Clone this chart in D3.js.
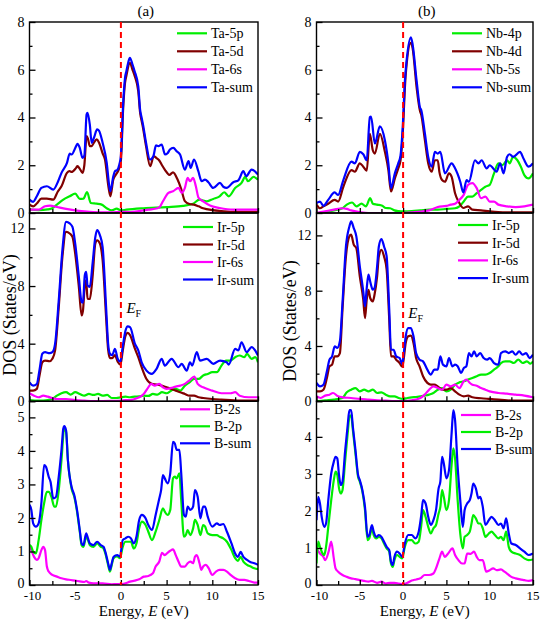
<!DOCTYPE html>
<html><head><meta charset="utf-8">
<script src="https://cdn.jsdelivr.net/npm/d3@7/dist/d3.min.js"></script>
<style>body{margin:0;background:#fff}svg{display:block}text{font-family:"Liberation Serif","Times New Roman",serif;fill:#000}</style>
</head><body>
<script>
// ---------- DATA ([energy eV, DOS]) ----------
const taSum=[[-10,0.56],[-9.6,0.47],[-9.2,0.7],[-8.7,1.05],[-8.1,1.12],[-7.4,0.98],[-6.9,1.3],[-6.5,1.68],[-5.9,2.1],[-5.6,2.49],[-5.4,2.45],[-4.9,2.8],[-4.75,2.9],[-4.5,2.73],[-4.2,2.31],[-4.0,2.4],[-3.75,4.13],[-3.65,4.2],[-3.4,3.7],[-3.2,2.94],[-2.95,3.15],[-2.6,3.5],[-2.4,3.45],[-2.0,2.94],[-1.55,2.1],[-1.27,1.12],[-1.15,0.91],[-0.83,1.54],[-0.65,1.75],[-0.4,1.8],[-0.17,2.03],[0,2.4],[0.25,4.6],[0.45,5.66],[0.6,5.94],[0.9,6.43],[0.98,6.5],[1.27,6.22],[1.5,5.94],[1.9,5.3],[2.1,4.33],[2.27,3.99],[2.45,3.64],[2.75,2.94],[3.18,2.24],[3.55,2.38],[3.84,2.83],[4.1,2.8],[4.46,2.87],[4.83,2.45],[5.1,2.5],[5.37,2.66],[5.74,2.73],[6.1,2.59],[6.47,2.45],[7.0,1.82],[7.4,2.17],[7.63,1.89],[8.0,2.24],[8.47,1.75],[8.84,1.33],[9.2,1.4],[9.57,1.29],[10.1,1.05],[10.84,1.26],[11.2,1.1],[11.57,1.05],[12.3,1.29],[12.85,1.37],[13.4,1.75],[13.7,1.54],[14.3,1.82],[15,1.61]];
const ta5d=[[-10,0.35],[-9.6,0.28],[-9.2,0.4],[-8.7,0.6],[-8.1,0.6],[-7.4,0.56],[-6.9,0.9],[-6.5,1.12],[-5.9,1.68],[-5.6,1.75],[-5.4,1.72],[-4.9,1.89],[-4.75,1.96],[-4.5,1.85],[-4.2,1.68],[-4.0,2.0],[-3.75,3.22],[-3.6,3.1],[-3.4,2.8],[-3.2,2.8],[-2.95,2.95],[-2.65,3.08],[-2.4,2.95],[-2.0,2.5],[-1.74,2.24],[-1.37,1.12],[-1.15,0.7],[-0.83,1.4],[-0.54,1.61],[-0.24,1.82],[0,2.2],[0.25,4.4],[0.45,5.45],[0.6,5.75],[0.98,6.29],[1.27,6.0],[1.5,5.75],[1.9,5.1],[2.1,4.2],[2.3,3.8],[2.45,3.5],[2.75,2.8],[3.2,1.96],[3.6,2.38],[3.9,2.3],[4.2,2.2],[4.5,2.0],[4.8,1.82],[5.3,1.6],[5.7,1.7],[6.2,1.4],[6.6,1.0],[7.0,0.5],[7.5,0.38],[8,0.35],[8.5,0.28],[9,0.2],[10,0.12],[11,0.08],[12,0.05],[13,0.05],[14,0.05],[15,0.05]];
const ta5p=[[-10,0.15],[-9,0.12],[-8,0.15],[-7.5,0.2],[-7,0.35],[-6.3,0.56],[-5.6,0.7],[-5,0.81],[-4.5,0.59],[-4.1,0.6],[-3.7,0.88],[-3.3,0.42],[-2.65,0.39],[-2.1,0.35],[-1.55,0.2],[-1,0.11],[-0.46,0.18],[0,0.11],[0.6,0.14],[2.5,0.2],[5,0.25],[6.8,0.3],[7.9,0.39],[8.6,0.56],[9.4,0.49],[10.1,0.59],[10.8,0.7],[11.3,0.87],[11.8,0.7],[12.5,1.05],[13.2,1.26],[13.6,1.51],[13.9,1.33],[14.5,1.51],[15,1.4]];
const ta6s=[[-10,0.14],[-9,0.14],[-8.3,0.28],[-7.75,0.31],[-7,0.25],[-6,0.17],[-5,0.11],[-4,0.07],[-3,0.04],[-2,0.03],[-1,0.03],[0,0.05],[1,0.04],[2,0.08],[3,0.14],[4,0.2],[4.3,0.28],[4.6,0.49],[5.2,0.84],[5.7,0.91],[6.3,1.05],[6.65,0.84],[7.0,1.05],[7.3,1.47],[7.56,1.33],[7.9,1.47],[8.2,1.12],[8.5,0.63],[9,0.49],[9.75,0.31],[10.8,0.21],[12.3,0.14],[15,0.14]];

const nbSum=[[-10,0.42],[-9.6,0.48],[-9.2,0.3],[-8.65,0.55],[-7.9,0.86],[-7.5,0.76],[-6.9,1.38],[-5.96,2.15],[-5.57,2.08],[-5,2.56],[-4.6,2.46],[-4.2,2.21],[-3.84,4.01],[-3.7,4.04],[-3.26,2.91],[-2.68,3.63],[-2.1,3.04],[-1.7,2.08],[-1.4,1.04],[-0.95,1.66],[-0.56,2.08],[-0.3,2.4],[0,3.9],[0.2,5.5],[0.4,6.37],[0.9,7.36],[1.1,7.06],[1.56,5.54],[1.94,4.43],[2.1,4.3],[2.52,3.32],[2.9,2.35],[3.3,1.94],[3.67,2.56],[4.0,2.49],[4.3,2.56],[4.83,1.66],[5.6,2.08],[6.0,1.87],[6.6,1.31],[6.95,0.86],[7.33,1.38],[7.6,1.31],[8.3,2.21],[8.7,2.08],[9.07,2.21],[9.65,1.87],[10,2.0],[10.8,1.73],[11.2,2.08],[11.6,1.66],[12,2.35],[12.3,2.46],[12.7,2.35],[13.5,2.56],[13.9,2.28],[14.5,1.94],[15,2.08]];
const nb4d=[[-10,0.35],[-9.6,0.2],[-9.2,0.28],[-8.65,0.39],[-7.9,0.55],[-7.5,0.48],[-6.9,1.1],[-5.96,1.8],[-5.57,1.73],[-5,2.08],[-4.6,1.94],[-4.2,1.77],[-3.84,3.32],[-3.5,2.63],[-3.26,2.49],[-2.68,3.32],[-2.1,2.56],[-1.7,1.8],[-1.4,0.9],[-0.95,1.45],[-0.56,1.87],[-0.3,2.2],[0,3.6],[0.2,5.2],[0.4,6.2],[0.9,7.13],[1.1,6.9],[1.56,5.26],[1.94,4.29],[2.1,4.1],[2.52,3.04],[2.9,2.08],[3.3,1.73],[3.67,2.21],[4.0,2.21],[4.2,1.7],[4.5,1.38],[4.83,1.31],[5.3,1.66],[5.6,1.52],[6.0,0.83],[6.4,0.48],[6.95,0.21],[7.5,0.28],[8,0.14],[9,0.11],[10,0.07],[11,0.04],[12,0.03],[13,0.03],[14,0.03],[15,0.03]];
const nb4p=[[-10,0.0],[-9,0.04],[-8,0.11],[-7,0.2],[-6.5,0.35],[-5.9,0.44],[-5.4,0.28],[-4.8,0.39],[-4.3,0.28],[-3.8,0.62],[-3.5,0.39],[-3,0.35],[-2.4,0.3],[-2,0.21],[-1.5,0.2],[-1,0.11],[-0.5,0.08],[0,0.07],[1,0.08],[2,0.11],[3,0.14],[4,0.14],[5,0.17],[6,0.2],[6.5,0.28],[7,0.48],[7.5,0.69],[8,0.69],[8.5,0.83],[9,0.97],[9.5,1.1],[10,1.18],[10.5,1.66],[11,2.08],[11.5,2.01],[12,2.21],[12.3,2.08],[12.7,2.35],[13.2,2.21],[13.6,1.94],[14,1.59],[14.5,1.45],[15,1.66]];
const nb5s=[[-10,0.0],[-9,0.07],[-8,0.14],[-7,0.2],[-6.5,0.17],[-6,0.11],[-5,0.04],[-4,0.0],[-1,0.0],[0,0.0],[1,0.03],[2,0.06],[3,0.11],[4,0.25],[5,0.3],[5.5,0.35],[6,0.39],[6.5,0.55],[7,0.76],[7.5,1.18],[8,1.25],[8.5,1.04],[9,0.62],[9.5,0.69],[10,0.48],[10.5,0.48],[11,0.35],[12,0.28],[13,0.25],[14,0.28],[15,0.35]];

const irSumA=[[-10,1.32],[-9.6,1.09],[-9.2,1.2],[-8.9,2.2],[-8.6,3.3],[-8.3,3.41],[-7.8,3.34],[-7.5,3.41],[-7.2,3.99],[-6.8,7.0],[-6.4,10.5],[-6.0,12.46],[-5.6,12.35],[-5.3,12.1],[-5,10.95],[-4.6,8.63],[-4.3,6.9],[-4.15,6.85],[-3.95,8.75],[-3.8,8.98],[-3.65,8.05],[-3.4,7.94],[-3.1,9.56],[-2.8,11.4],[-2.6,11.88],[-2.3,11.53],[-2.0,10.7],[-1.6,6.3],[-1.4,4.0],[-1.2,3.3],[-0.95,3.2],[-0.65,3.64],[-0.35,2.95],[-0.05,2.75],[0.2,3.8],[0.5,4.9],[0.75,5.2],[1.0,5.15],[1.54,3.99],[1.9,3.53],[2.27,2.71],[2.8,2.13],[3.37,1.9],[3.9,2.25],[4.46,2.95],[4.8,2.48],[5.55,2.95],[6.3,2.37],[6.65,2.6],[7.2,2.13],[7.56,2.71],[7.8,2.48],[8.3,3.41],[8.65,2.83],[9.4,2.95],[10.1,2.6],[10.85,2.83],[11.57,2.71],[11.8,2.55],[12.5,3.64],[12.85,3.53],[13.2,4.1],[13.76,3.41],[14.3,3.76],[15,3.18]];
const ir5dA=[[-10,0.74],[-9.6,0.74],[-9.2,0.86],[-8.9,1.8],[-8.6,2.71],[-8.3,2.83],[-7.8,2.78],[-7.5,2.95],[-7.2,3.53],[-6.8,6.54],[-6.4,10.02],[-6.0,11.76],[-5.6,11.65],[-5.3,11.41],[-5,10.25],[-4.6,7.94],[-4.3,5.96],[-4.15,6.3],[-3.95,8.05],[-3.8,8.4],[-3.65,7.12],[-3.4,7.1],[-3.1,8.63],[-2.8,10.95],[-2.6,11.18],[-2.3,10.95],[-2.0,9.79],[-1.6,5.61],[-1.4,3.6],[-1.2,3.0],[-0.95,3.0],[-0.65,3.2],[-0.35,2.75],[-0.05,2.55],[0.2,3.5],[0.5,4.55],[0.75,4.75],[1.0,4.6],[1.54,3.64],[1.9,3.06],[2.27,2.37],[2.8,1.55],[3.37,1.21],[3.9,1.16],[4.46,1.09],[5,0.97],[5.5,0.86],[6,0.74],[6.5,0.63],[7,0.51],[7.5,0.39],[8,0.39],[8.5,0.28],[9,0.23],[10,0.16],[11,0.12],[12,0.09],[13,0.05],[14,0.05],[15,0.05]];
const ir5pA=[[-10,0.09],[-9,0.05],[-8,0.09],[-7.5,0.16],[-7,0.39],[-6.5,0.56],[-6,0.63],[-5.5,0.46],[-5,0.63],[-4.5,0.51],[-4,0.39],[-3.5,0.51],[-3,0.44],[-2.5,0.51],[-2,0.39],[-1.5,0.44],[-1,0.23],[-0.5,0.23],[0,0.28],[0.5,0.32],[1,0.28],[1.5,0.32],[2,0.34],[2.5,0.39],[3,0.37],[3.5,0.51],[4,0.46],[4.5,0.63],[5,0.56],[5.5,0.74],[6,0.86],[6.5,0.74],[7,1.09],[7.5,1.32],[8,1.55],[8.5,1.55],[9,1.79],[9.5,1.9],[10,2.02],[10.5,2.02],[11,2.48],[11.5,2.83],[12,2.83],[12.5,3.06],[13,3.18],[13.5,3.06],[13.8,3.29],[14.3,2.95],[14.7,3.06],[15,2.71]];
const ir6sA=[[-10,0.56],[-9.5,0.39],[-9,0.28],[-8.5,0.39],[-8,0.32],[-7.5,0.23],[-7,0.16],[-6,0.16],[-5,0.09],[-4,0.05],[-3,0.02],[-2,0.02],[-1,0.03],[0,0.05],[0.5,0.09],[1,0.09],[1.5,0.16],[2,0.28],[2.5,0.51],[3,0.97],[3.3,1.21],[3.7,1.09],[4.2,1.21],[4.6,0.97],[5,0.86],[5.5,0.93],[6,1.02],[6.5,1.09],[7,1.21],[7.5,1.45],[8.03,1.72],[8.4,1.21],[9,0.97],[10,0.74],[11,0.56],[12,0.56],[12.5,0.63],[13,0.39],[14,0.28],[15,0.28]];

const irSumB=[[-10,1.33],[-9.6,1.08],[-9.2,1.2],[-8.8,2.17],[-8.5,3.01],[-8.2,3.25],[-7.9,3.98],[-7.6,3.86],[-7.3,4.34],[-7,7.1],[-6.6,11.2],[-6.2,12.65],[-6,13.01],[-5.7,12.53],[-5.4,11.93],[-5,9.76],[-4.6,7.95],[-4.4,6.87],[-4.2,8.19],[-4.0,9.16],[-3.8,8.67],[-3.5,8.07],[-3.3,8.19],[-3,9.76],[-2.8,11.2],[-2.5,11.74],[-2.2,11.2],[-1.9,10.48],[-1.6,6.63],[-1.4,3.73],[-1.1,3.73],[-0.8,3.25],[-0.4,3.13],[-0.1,2.7],[0.1,3.6],[0.3,4.7],[0.6,5.3],[0.9,5.3],[1.2,4.7],[1.5,3.49],[1.9,3.01],[2.3,2.89],[2.8,2.29],[3.2,1.93],[3.6,2.29],[4,2.29],[4.3,3.25],[4.6,2.65],[5,2.53],[5.3,3.13],[5.7,2.53],[6,2.65],[6.3,2.53],[6.7,2.05],[7.0,2.4],[7.3,2.53],[7.6,3.49],[7.9,3.25],[8.2,3.61],[8.5,3.25],[8.9,3.49],[9.3,3.13],[9.7,3.01],[10,3.13],[10.5,2.77],[11,2.65],[11.3,3.49],[11.8,3.61],[12.2,3.49],[12.6,3.61],[13,3.37],[13.4,3.61],[13.8,3.37],[14.2,3.49],[14.6,3.13],[15,3.37]];
const ir5dB=[[-10,0.72],[-9.6,0.72],[-9.2,0.84],[-8.8,1.69],[-8.5,2.53],[-8.2,2.65],[-7.9,3.25],[-7.6,3.25],[-7.3,3.49],[-7,6.63],[-6.6,10.48],[-6.2,11.93],[-6,12.05],[-5.7,11.33],[-5.4,11.08],[-5,9.04],[-4.6,7.35],[-4.4,6.02],[-4.2,7.35],[-4,8.07],[-3.8,7.47],[-3.5,7.23],[-3.3,7.71],[-3,9.04],[-2.8,10.48],[-2.5,10.96],[-2.2,10.48],[-1.9,9.52],[-1.6,5.9],[-1.4,3.25],[-1.1,3.25],[-0.8,3.01],[-0.4,2.77],[-0.1,2.5],[0.1,3.2],[0.3,4.22],[0.6,4.7],[0.9,4.75],[1.2,4.22],[1.5,3.13],[1.9,2.53],[2.3,1.81],[2.8,1.33],[3.2,1.2],[3.6,1.2],[4,1.08],[4.5,0.84],[5,0.84],[5.5,0.96],[6,0.72],[6.5,0.48],[7,0.36],[7.5,0.41],[8,0.29],[9,0.22],[10,0.17],[11,0.12],[12,0.07],[13,0.05],[14,0.05],[15,0.05]];
const ir5pB=[[-10,0.0],[-9,0.07],[-8,0.12],[-7,0.24],[-6.5,0.65],[-6,0.84],[-5.5,0.96],[-5,0.72],[-4.5,0.84],[-4,0.72],[-3.5,0.84],[-3,0.6],[-2.5,0.65],[-2,0.48],[-1.5,0.36],[-1,0.36],[-0.5,0.24],[0,0.17],[0.5,0.24],[1,0.29],[1.5,0.31],[2,0.36],[2.5,0.41],[3,0.48],[3.5,0.6],[4,0.84],[4.5,0.96],[5,0.72],[5.5,0.84],[6,1.2],[6.5,1.37],[7,1.45],[7.5,1.57],[8,1.69],[8.5,1.81],[9,1.93],[9.5,1.93],[10,2.05],[10.5,2.29],[11,2.53],[11.3,2.77],[11.8,2.89],[12.3,2.89],[12.8,2.77],[13.3,3.01],[13.8,2.77],[14.3,2.89],[14.7,2.72],[15,2.89]];
const ir6sB=[[-10,0.36],[-9.5,0.24],[-9,0.41],[-8.5,0.48],[-8.1,0.6],[-7.5,0.36],[-7,0.29],[-6,0.24],[-5,0.17],[-4,0.12],[-3,0.07],[-2,0.05],[-1,0.02],[0,0.02],[1,0.07],[2,0.24],[2.5,0.48],[3,0.84],[3.5,1.08],[4,0.96],[4.5,0.84],[5,1.2],[5.5,1.08],[6,1.2],[6.5,0.96],[7,1.45],[7.3,1.57],[7.7,1.33],[8,1.2],[8.5,1.13],[9,0.96],[9.5,0.84],[10,0.72],[11,0.6],[12,0.55],[13,0.48],[14,0.41],[15,0.29]];

const bSumA=[[-10,2.39],[-9.8,2.24],[-9.6,1.84],[-9.3,1.74],[-9,1.84],[-8.7,2.44],[-8.4,3.58],[-8.2,3.53],[-7.9,3.23],[-7.7,3.08],[-7.4,2.58],[-7.1,2.63],[-6.8,3.23],[-6.5,4.03],[-6.3,4.67],[-6.2,4.74],[-6.0,4.62],[-5.8,3.73],[-5.4,2.93],[-5.1,2.68],[-4.8,2.24],[-4.5,1.64],[-4.3,1.24],[-4.1,1.19],[-3.8,1.54],[-3.6,1.39],[-3.4,1.24],[-3.0,1.19],[-2.6,1.29],[-2.2,1.19],[-1.9,1.14],[-1.7,0.99],[-1.4,0.65],[-1.2,0.45],[-1.0,0.65],[-0.8,0.84],[-0.4,0.89],[-0.1,0.84],[0.2,1.34],[0.5,1.39],[0.8,1.44],[1.1,1.39],[1.4,1.24],[1.7,1.44],[2.0,1.94],[2.3,2.09],[2.7,1.99],[3.0,1.79],[3.4,1.64],[3.8,2.09],[4.2,2.58],[4.4,2.83],[4.6,3.28],[4.8,3.18],[5.1,3.03],[5.4,3.33],[5.7,4.27],[5.9,4.22],[6.1,4.03],[6.4,4.03],[6.6,3.33],[6.9,2.09],[7.1,2.04],[7.3,2.34],[7.6,2.24],[7.9,2.34],[8.1,2.83],[8.4,2.63],[8.7,1.99],[9.0,2.34],[9.2,2.34],[9.5,2.04],[10,1.74],[10.5,1.84],[10.8,1.79],[11.2,1.82],[11.6,1.59],[12.1,1.24],[12.5,0.94],[12.8,0.84],[13.1,0.99],[13.4,0.84],[13.8,0.75],[14.2,0.68],[14.6,0.65],[15,0.6]];
const b2pA=[[-10,1.19],[-9.8,1.14],[-9.6,0.99],[-9.3,0.94],[-9,1.34],[-8.7,1.94],[-8.4,2.44],[-8.1,2.78],[-7.9,2.78],[-7.6,2.63],[-7.3,2.34],[-7.1,2.34],[-6.8,2.83],[-6.5,3.73],[-6.2,4.67],[-6.0,4.57],[-5.8,3.73],[-5.4,2.88],[-5.1,2.63],[-4.8,2.19],[-4.5,1.59],[-4.3,1.19],[-4.1,1.14],[-3.8,1.44],[-3.6,1.34],[-3.4,1.19],[-3.0,1.14],[-2.6,1.24],[-2.2,1.14],[-1.9,1.09],[-1.7,0.94],[-1.4,0.6],[-1.2,0.4],[-1.0,0.6],[-0.8,0.8],[-0.4,0.85],[-0.1,0.8],[0.2,1.14],[0.5,1.29],[0.8,1.29],[1.1,1.29],[1.4,1.09],[1.7,1.24],[2.0,1.69],[2.3,1.89],[2.7,1.79],[3.0,1.59],[3.4,1.34],[3.8,1.59],[4.2,1.94],[4.6,2.29],[4.8,2.19],[5.1,2.09],[5.4,2.24],[5.7,3.18],[5.9,3.23],[6.1,3.18],[6.4,3.33],[6.6,2.53],[6.9,1.44],[7.1,1.49],[7.3,1.64],[7.6,1.49],[7.9,1.69],[8.1,1.94],[8.4,1.79],[8.7,1.49],[9.0,1.79],[9.2,1.75],[9.5,1.54],[10,1.49],[10.5,1.49],[10.8,1.44],[11.2,1.39],[11.6,1.29],[12.1,1.04],[12.5,0.8],[12.8,0.72],[13.1,0.84],[13.4,0.7],[13.8,0.6],[14.2,0.55],[14.6,0.5],[15,0.47]];
const b2sA=[[-10,1.19],[-9.8,1.04],[-9.5,0.84],[-9.2,0.75],[-9,0.8],[-8.7,1.04],[-8.5,1.14],[-8.3,1.04],[-8.1,0.55],[-7.9,0.4],[-7.5,0.3],[-7,0.25],[-6.5,0.2],[-6,0.17],[-5.5,0.15],[-5,0.13],[-4.5,0.11],[-4,0.09],[-3.8,0.12],[-3.5,0.07],[-3,0.05],[-2,0.05],[-1,0.02],[-0.5,0.03],[0,0.02],[0.5,0.05],[1,0.1],[1.5,0.13],[2,0.17],[2.5,0.25],[3,0.27],[3.5,0.35],[3.8,0.55],[4.2,0.7],[4.5,0.96],[4.8,0.89],[5.1,0.96],[5.4,1.02],[5.7,1.06],[6,0.89],[6.3,0.7],[6.6,0.55],[7,0.55],[7.3,0.65],[7.6,0.7],[7.9,0.65],[8.1,0.84],[8.3,0.89],[8.6,0.65],[8.8,0.45],[9,0.55],[9.3,0.6],[9.6,0.5],[10,0.3],[10.4,0.4],[10.8,0.45],[11.2,0.45],[11.6,0.4],[12,0.3],[12.5,0.2],[13,0.15],[13.5,0.15],[14,0.12],[14.5,0.08],[15,0.07]];

const bSumB=[[-10,1.75],[-9.8,2.38],[-9.6,2.2],[-9.4,1.84],[-9.1,1.57],[-8.9,1.66],[-8.6,2.38],[-8.3,3.01],[-8.0,3.33],[-7.8,3.46],[-7.6,3.42],[-7.4,2.97],[-7.2,2.7],[-7.0,2.79],[-6.7,3.6],[-6.4,4.31],[-6.2,4.72],[-6.0,4.72],[-5.8,4.27],[-5.5,3.64],[-5.2,2.97],[-5.0,2.83],[-4.7,2.56],[-4.4,2.11],[-4.1,1.3],[-3.9,1.35],[-3.6,1.62],[-3.4,1.44],[-3.1,1.3],[-2.8,1.35],[-2.5,1.3],[-2.2,1.17],[-1.9,1.03],[-1.6,0.94],[-1.4,0.63],[-1.2,0.54],[-1.0,0.76],[-0.7,0.9],[-0.4,0.85],[-0.1,0.76],[0.2,1.12],[0.6,1.35],[1.0,1.35],[1.4,1.26],[1.8,1.44],[2.1,1.89],[2.3,2.29],[2.6,2.2],[2.9,1.84],[3.2,1.62],[3.5,1.75],[3.8,2.02],[4.1,2.61],[4.3,2.79],[4.5,3.46],[4.7,3.28],[5.0,2.88],[5.3,3.1],[5.6,4.09],[5.8,4.72],[6.0,4.45],[6.3,3.19],[6.6,2.29],[6.9,1.57],[7.1,2.02],[7.4,2.2],[7.7,2.29],[7.9,2.47],[8.1,2.74],[8.4,2.61],[8.7,2.34],[8.9,2.38],[9.2,2.11],[9.5,1.62],[9.9,1.75],[10.2,1.84],[10.6,1.75],[11.0,1.62],[11.3,1.66],[11.6,1.53],[11.9,1.8],[12.2,1.39],[12.5,1.12],[13,1.08],[13.5,0.99],[14,0.9],[14.5,0.81],[15,0.85]];
const b2pB=[[-10,0.58],[-9.8,1.17],[-9.6,1.03],[-9.4,0.9],[-9.1,0.81],[-8.9,1.03],[-8.6,1.66],[-8.3,2.29],[-8.0,2.83],[-7.8,3.06],[-7.6,2.97],[-7.4,2.61],[-7.2,2.47],[-7.0,2.56],[-6.7,3.33],[-6.4,4.09],[-6.2,4.54],[-6.0,4.58],[-5.8,4.18],[-5.5,3.55],[-5.2,2.92],[-5.0,2.79],[-4.7,2.52],[-4.4,2.02],[-4.1,1.21],[-3.9,1.26],[-3.6,1.53],[-3.4,1.35],[-3.1,1.26],[-2.8,1.3],[-2.5,1.26],[-2.2,1.12],[-1.9,0.99],[-1.6,0.9],[-1.4,0.58],[-1.2,0.49],[-1.0,0.67],[-0.7,0.81],[-0.4,0.76],[-0.1,0.72],[0.2,1.03],[0.6,1.21],[1.0,1.21],[1.4,1.12],[1.8,1.17],[2.1,1.62],[2.3,2.02],[2.6,1.84],[2.9,1.57],[3.2,1.39],[3.5,1.53],[3.8,1.62],[4.1,1.93],[4.3,2.11],[4.5,2.56],[4.7,2.38],[5.0,2.02],[5.3,2.29],[5.6,3.24],[5.8,3.69],[6.0,3.42],[6.3,2.29],[6.6,1.39],[6.9,0.99],[7.1,1.3],[7.4,1.35],[7.7,1.44],[7.9,1.66],[8.1,1.89],[8.4,1.8],[8.7,1.66],[8.9,1.66],[9.2,1.53],[9.5,1.3],[9.9,1.39],[10.2,1.44],[10.6,1.35],[11.0,1.26],[11.3,1.3],[11.6,1.21],[11.9,1.44],[12.2,1.03],[12.5,0.9],[13,0.85],[13.5,0.81],[14,0.72],[14.5,0.67],[15,0.69]];
const b2sB=[[-10,0.99],[-9.6,0.85],[-9.2,0.76],[-9,0.67],[-8.6,0.9],[-8.3,1.17],[-8.0,0.72],[-7.8,0.45],[-7.5,0.36],[-7,0.27],[-6.5,0.22],[-6,0.18],[-5.5,0.16],[-5,0.13],[-4.5,0.11],[-4,0.09],[-3.6,0.11],[-3,0.06],[-2.5,0.09],[-2,0.04],[-1.5,0.06],[-1,0.06],[-0.5,0.04],[0,0.02],[0.5,0.06],[1,0.12],[1.5,0.15],[2,0.18],[2.5,0.27],[3,0.27],[3.5,0.31],[3.8,0.45],[4.2,0.72],[4.5,0.9],[4.8,0.76],[5.2,0.85],[5.7,0.99],[6,0.81],[6.4,0.67],[6.8,0.58],[7.1,0.58],[7.4,0.85],[7.8,0.84],[8.2,0.9],[8.5,0.76],[8.8,0.67],[9.2,0.67],[9.6,0.36],[10,0.4],[10.4,0.45],[10.8,0.4],[11.3,0.42],[11.7,0.36],[12,0.31],[12.5,0.22],[13,0.18],[13.5,0.15],[14,0.13],[14.5,0.11],[15,0.13]];

const xTickLabels=[-10,-5,0,5,10,15];
const legendTop=[["Ta-5p","Ta-5d","Ta-6s","Ta-sum"],["Nb-4p","Nb-4d","Nb-5s","Nb-sum"]];
const legendMid=["Ir-5p","Ir-5d","Ir-6s","Ir-sum"];
const legendBot=["B-2s","B-2p","B-sum"];
const panelTitles=["(a)","(b)"];

// ---------- LAYOUT / STYLE ----------
const W=541,H=620;
const C={green:"#00ee00",red:"#800000",mag:"#ff00ff",blue:"#0000ff"};
const cols=[{x0:29.5,x1:258,yl:15.5,ylc:315},{x0:316.5,x1:533,yl:296,ylc:321}];
const rows=[{y0:22,y1:213},{y0:213,y1:401.3},{y0:401.3,y1:585}];

const panels=[
 {c:0,r:0,dom:8,major:[0,2,4,6,8],minor:[1,3,5,7],series:[[ta5p,C.green],[ta5d,C.red],[ta6s,C.mag],[taSum,C.blue]],leg:legendTop[0],legCol:[C.green,C.red,C.mag,C.blue],lx:177,ly:33.3,dy:18},
 {c:1,r:0,dom:8,major:[0,2,4,6,8],minor:[1,3,5,7],series:[[nb4p,C.green],[nb4d,C.red],[nb5s,C.mag],[nbSum,C.blue]],leg:legendTop[1],legCol:[C.green,C.red,C.mag,C.blue],lx:452,ly:33.3,dy:18},
 {c:0,r:1,dom:13.07,major:[0,4,8,12],minor:[2,6,10],series:[[ir5pA,C.green],[ir5dA,C.red],[ir6sA,C.mag],[irSumA,C.blue]],leg:legendMid,legCol:[C.green,C.red,C.mag,C.blue],lx:183,ly:227,dy:17.5},
 {c:1,r:1,dom:13.62,major:[0,4,8,12],minor:[2,6,10],series:[[ir5pB,C.green],[ir5dB,C.red],[ir6sB,C.mag],[irSumB,C.blue]],leg:legendMid,legCol:[C.green,C.red,C.mag,C.blue],lx:458,ly:225,dy:17.7},
 {c:0,r:2,dom:5.48,major:[0,1,2,3,4,5],minor:[0.5,1.5,2.5,3.5,4.5],series:[[b2sA,C.mag],[b2pA,C.green],[bSumA,C.blue]],leg:legendBot,legCol:[C.mag,C.green,C.blue],lx:180,ly:409.3,dy:17},
 {c:1,r:2,dom:4.96,major:[0,1,2,3,4],minor:[0.5,1.5,2.5,3.5,4.5],series:[[b2sB,C.mag],[b2pB,C.green],[bSumB,C.blue]],leg:legendBot,legCol:[C.mag,C.green,C.blue],lx:461,ly:415,dy:17}
];

const svg=d3.select("body").append("svg").attr("width",W).attr("height",H);

const xs=cols.map(c=>d3.scaleLinear().domain([-10,15]).range([c.x0,c.x1]));

panels.forEach(p=>{
  const col=cols[p.c],row=rows[p.r];
  const x=xs[p.c];
  const y=d3.scaleLinear().domain([0,p.dom]).range([row.y1,row.y0]);
  const g=svg.append("g");
  const cid="clip"+p.c+p.r;
  svg.append("clipPath").attr("id",cid).append("rect").attr("x",col.x0).attr("y",row.y0).attr("width",col.x1-col.x0).attr("height",row.y1-row.y0);
  const line=d3.line().x(d=>x(d[0])).y(d=>y(d[1])).curve(d3.curveMonotoneX);
  const lg=g.append("g").attr("clip-path","url(#"+cid+")");
  p.series.forEach(([data,color])=>{
    lg.append("path").datum(data).attr("d",line).attr("fill","none").attr("stroke",color).attr("stroke-width",2.2).attr("stroke-linejoin","round");
  });
  // y ticks (inward)
  const ya=g.append("g").attr("transform",`translate(${col.x0},0)`).call(d3.axisRight(y).tickValues(p.major).tickSize(6).tickFormat(""));
  const yb=g.append("g").attr("transform",`translate(${col.x0},0)`).call(d3.axisRight(y).tickValues(p.minor).tickSize(3).tickFormat(""));
  [ya,yb].forEach(a=>{a.select(".domain").remove();a.selectAll("line").attr("stroke","#000").attr("stroke-width",1.3);});
  p.major.forEach(v=>{
    const isCorner=(p.r===2&&v===0);
    g.append("text").attr("x",col.x0-5).attr("y",y(v)).attr("dy",isCorner?"0.2em":"0.35em").attr("text-anchor","end").attr("font-size",14).text(v);
  });
  // x ticks (inward)
  const xa=g.append("g").attr("transform",`translate(0,${row.y1})`).call(d3.axisTop(x).tickValues(xTickLabels).tickSize(5).tickFormat(""));
  const xb=g.append("g").attr("transform",`translate(0,${row.y1})`).call(d3.axisTop(x).tickValues([-7.5,-2.5,2.5,7.5,12.5]).tickSize(4).tickFormat(""));
  [xa,xb].forEach(a=>{a.select(".domain").remove();a.selectAll("line").attr("stroke","#000").attr("stroke-width",1.3);});
  if(p.r===2){
    xTickLabels.forEach(v=>{
      g.append("text").attr("x",x(v)+(v===-10?3:0)).attr("y",row.y1+14.5).attr("text-anchor","middle").attr("font-size",13).text(v);
    });
  }
  // frame
  g.append("rect").attr("x",col.x0).attr("y",row.y0).attr("width",col.x1-col.x0).attr("height",row.y1-row.y0).attr("fill","none").attr("stroke","#000").attr("stroke-width",1.4);
  // legend
  p.leg.forEach((t,i)=>{
    const yy=p.ly+i*p.dy;
    g.append("line").attr("x1",p.lx).attr("x2",p.lx+30).attr("y1",yy).attr("y2",yy).attr("stroke",p.legCol[i]).attr("stroke-width",2.2);
    g.append("text").attr("x",p.lx+34).attr("y",yy+5).attr("font-size",14).text(t);
  });
});

// Fermi dashed lines, titles, axis labels
cols.forEach((col,i)=>{
  const x=xs[i];
  svg.append("line").attr("x1",x(0)).attr("x2",x(0)).attr("y1",rows[0].y0).attr("y2",rows[2].y1)
    .attr("stroke","#ff0000").attr("stroke-width",2).attr("stroke-dasharray","6,4");
  svg.append("text").attr("x",(col.x0+col.x1)/2+2).attr("y",16).attr("text-anchor","middle").attr("font-size",15).text(panelTitles[i]);
  const xl=svg.append("text").attr("x",(col.x0+col.x1)/2).attr("y",615.5).attr("text-anchor","middle").attr("font-size",15);
  xl.append("tspan").text("Energy, ");
  xl.append("tspan").attr("font-style","italic").text("E");
  xl.append("tspan").text(" (eV)");
  svg.append("text").attr("transform",`translate(${col.yl},${col.ylc}) rotate(-90)`).attr("text-anchor","middle").attr("font-size",18).text("DOS (States/eV)");
  const ef=svg.append("text").attr("x",x(0.6)).attr("y",i===0?313:318).attr("font-size",15);
  ef.append("tspan").attr("font-style","italic").text("E");
  ef.append("tspan").attr("font-size",10).attr("dy",4).text("F");
});
</script>
</body></html>
